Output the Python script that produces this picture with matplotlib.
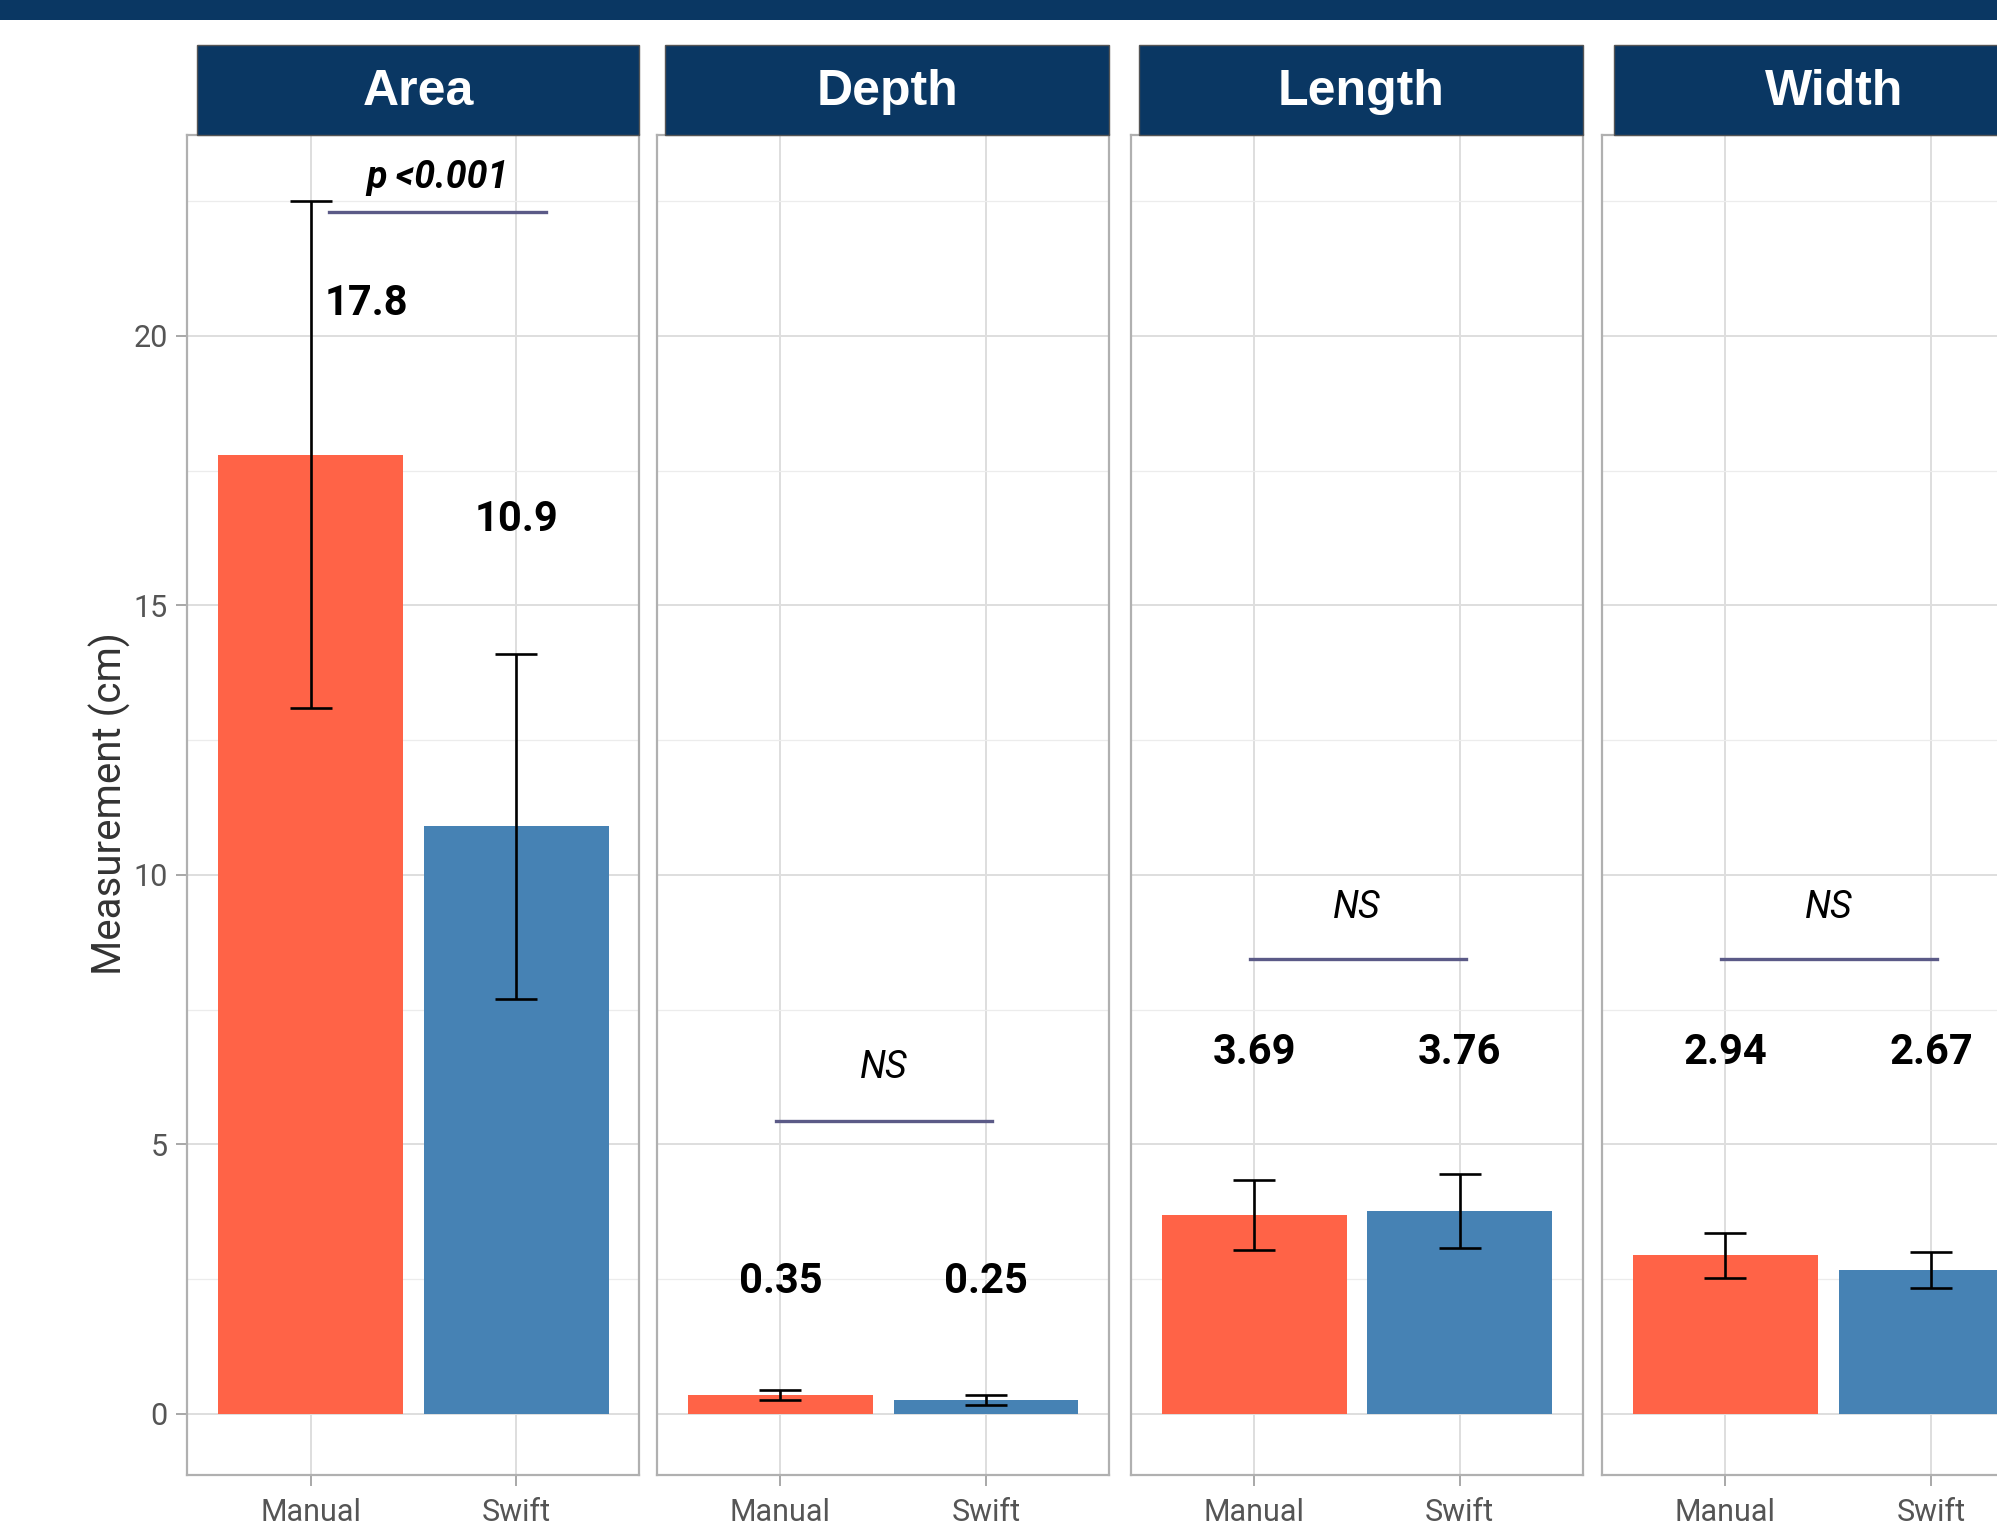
import matplotlib
matplotlib.use("Agg")
import matplotlib.pyplot as plt
from matplotlib.patches import Rectangle

# ── Data ──────────────────────────────────────────────────────────────
measures = ["Area", "Depth", "Length", "Width"]
groups = ["Manual", "Swift"]
manual_mean = [17.8, 0.35, 3.69, 2.94]
swift_mean = [10.9, 0.25, 3.76, 2.67]
manual_sd = [4.7, 0.09, 0.65, 0.42]
swift_sd = [3.2, 0.09, 0.68, 0.33]
manual_label_y = [20.6, 2.45, 6.7, 6.7]
swift_label_y = [16.6, 2.45, 6.7, 6.7]
sig_text = ["p <0.001", "NS", "NS", "NS"]
sig_line_y = [22.3, 5.43, 8.43, 8.43]
sig_text_y = [22.95, 6.42, 9.4, 9.4]
y_ticks = [0, 5, 10, 15, 20]

# ── Style ─────────────────────────────────────────────────────────────
NAVY = "#0a3763"
C_MANUAL = "#ff6347"
C_SWIFT = "#4682b4"
SIG_C = "#5b5a87"
W, H = 1568.0, 1200.0  # layout measured on the shrunk reference

fig = plt.figure(figsize=(19.97, 15.28), dpi=100)
fig.patch.set_facecolor("white")

# top banner
fig.patches.append(Rectangle((0, 1 - 16 / H), 1, 16 / H, transform=fig.transFigure,
                             facecolor=NAVY, edgecolor="none", zorder=0))

panel_left = [147, 516, 888, 1258]
strip_left = [155, 522, 894, 1267]
panel_w = 355
for i, m in enumerate(measures):
    ax = fig.add_axes([panel_left[i] / W, 1 - 1158 / H, panel_w / W, (1158 - 106) / H])
    x = [0, 1]
    ax.bar(x, [manual_mean[i], swift_mean[i]], width=0.9,
           color=[C_MANUAL, C_SWIFT], zorder=2)
    ax.errorbar(x, [manual_mean[i], swift_mean[i]], yerr=[manual_sd[i], swift_sd[i]],
                fmt="none", ecolor="black", elinewidth=1.9, capsize=15, capthick=1.9, zorder=3)

    # value labels
    x_off = 0.27 if i == 0 else 0.0
    ax.text(0 + x_off, manual_label_y[i], f"{manual_mean[i]:g}", ha="center", va="center",
            fontsize=30, fontweight="bold", family="Roboto", zorder=4)
    ax.text(1, swift_label_y[i], f"{swift_mean[i]:g}", ha="center", va="center",
            fontsize=30, fontweight="bold", family="Roboto", zorder=4)

    # significance bracket
    if i == 0:
        ax.plot([0.09, 1.145], [sig_line_y[i]] * 2, color=SIG_C, lw=2.4, zorder=4)
        ax.text(0.62, sig_text_y[i], sig_text[i], ha="center", va="center", fontsize=27,
                fontweight="bold", style="italic", family="Roboto", zorder=4)
    else:
        ax.plot([-0.02, 1.03], [sig_line_y[i]] * 2, color=SIG_C, lw=2.4, zorder=4)
        ax.text(0.5, sig_text_y[i], sig_text[i], ha="center", va="center", fontsize=27,
                style="italic", family="Roboto", zorder=4)

    ax.set_xlim(-0.6, 1.6)
    ax.set_ylim(-1.13, 23.73)
    ax.set_xticks(x)
    ax.set_xticklabels(groups, family="Roboto", fontsize=22, color="#555555")
    ax.set_yticks(y_ticks)
    ax.set_yticks([2.5, 7.5, 12.5, 17.5, 22.5], minor=True)
    if i == 0:
        ax.set_yticklabels([str(t) for t in y_ticks], family="Roboto", fontsize=22, color="#555555")
    else:
        ax.tick_params(axis="y", which="both", left=False, labelleft=False)
    ax.tick_params(axis="both", which="major", color="#9a9a9a", length=8, width=1.2, pad=6)
    ax.tick_params(axis="x", which="major", pad=9)
    ax.tick_params(axis="y", which="minor", left=False)
    ax.grid(True, which="major", color="#dedede", lw=1.4, zorder=0)
    ax.grid(True, which="minor", axis="y", color="#ececec", lw=0.9, zorder=0)
    ax.set_axisbelow(True)
    for s in ax.spines.values():
        s.set_color("#b0b0b0")
        s.set_linewidth(1.6)

    # strip header
    sx = strip_left[i] / W
    sw = (panel_left[i] + panel_w - strip_left[i]) / W
    fig.patches.append(Rectangle((sx, 1 - 106 / H), sw, (106 - 35) / H,
                                 transform=fig.transFigure, facecolor=NAVY,
                                 edgecolor="#555555", lw=1.0, zorder=1))
    fig.text(sx + sw / 2, 1 - 72 / H, m, ha="center", va="center", color="white",
             fontsize=36, fontweight="bold", family="Liberation Sans")

fig.text(86 / W, 1 - 631 / H, "Measurement (cm)", rotation=90, ha="center", va="center",
         fontsize=29, family="Roboto", color="#333333")

fig.savefig("out.png", dpi=100)
